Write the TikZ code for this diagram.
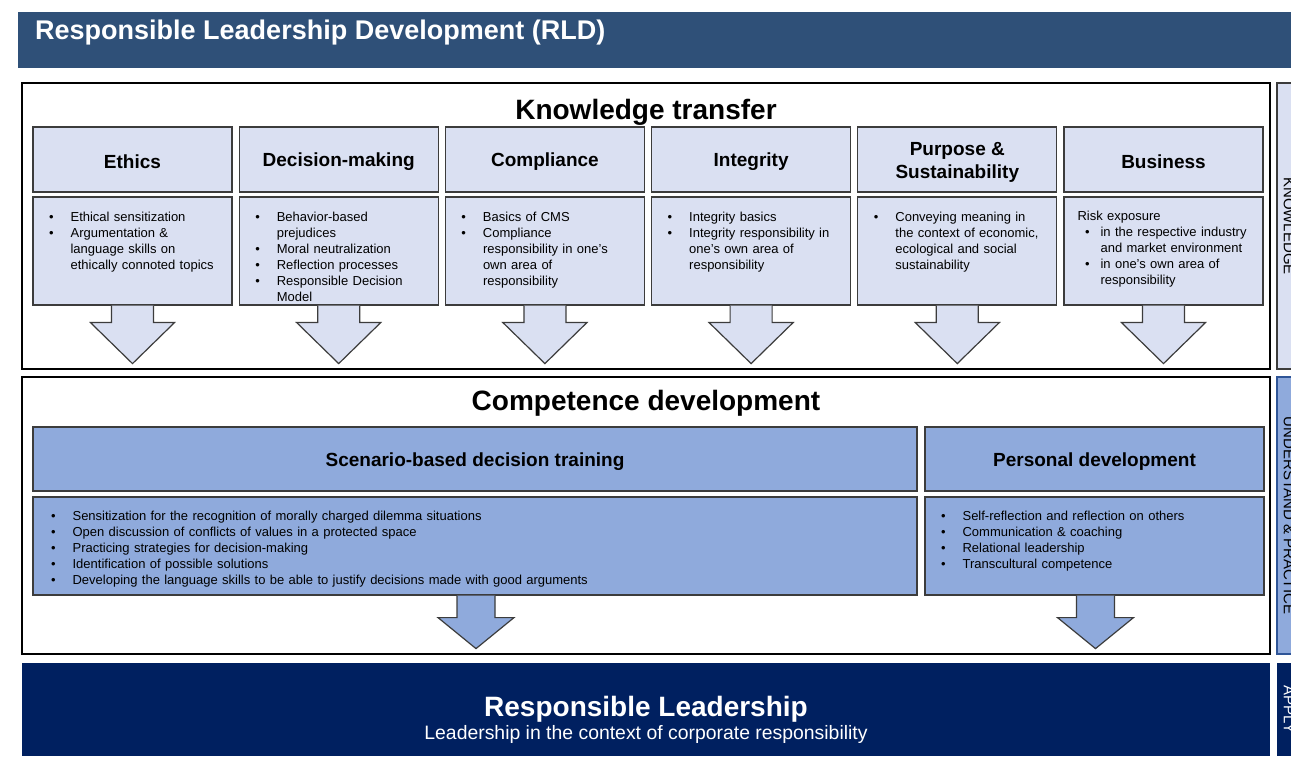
\documentclass[tikz,border=0pt]{standalone}
\usepackage{fontspec}
\setmainfont{Liberation Sans}
\usetikzlibrary{calc}
\definecolor{banner}{RGB}{47,80,120}
\definecolor{lav}{RGB}{218,224,242}
\definecolor{midblue}{RGB}{143,170,220}
\definecolor{navy}{RGB}{0,32,96}
\definecolor{edge}{RGB}{60,60,60}
\definecolor{bluedge}{RGB}{47,85,151}
\newcommand{\bitem}[2][17pt]{\par{\leftskip=23pt\noindent\llap{\textbullet\hspace{#1}}#2\par}}

\begin{document}
\begin{tikzpicture}[x=1pt,y=1pt,
    sec/.style={draw=black,line width=2pt,fill=white,minimum width=1248pt,inner sep=0pt},
    hd/.style={draw=edge,line width=1.2pt,fill=lav,minimum width=199pt,minimum height=65pt,inner sep=0pt},
    hdt/.style={inner sep=0pt,align=center,yshift=-2.5pt,font=\fontsize{19}{23}\selectfont\bfseries},
    ct/.style={draw=edge,line width=1.2pt,fill=lav,minimum width=199pt,minimum height=108pt,inner sep=0pt},
    bhd/.style={draw=edge,line width=1.2pt,fill=midblue,minimum height=64pt,inner sep=0pt},
    bct/.style={draw=edge,line width=1.2pt,fill=midblue,minimum height=98pt,inner sep=0pt},
    txt/.style={anchor=north west,inner sep=0pt,text width=#1,align=left,font=\fontsize{13}{16}\selectfont},
    karr/.style={draw=edge,line width=1.2pt,fill=lav},
    barr/.style={draw=edge,line width=1.2pt,fill=midblue},
    side/.style={rotate=-90,minimum height=24pt,inner sep=0pt,font=\fontsize{15}{17}\selectfont},
    big/.style={inner sep=0pt,font=\fontsize{28}{32}\selectfont\bfseries}]
    \fill[white] (0,0) rectangle (1291,756);
    \useasboundingbox (0,0) rectangle (1291,756);
    \node (top) [fill=banner,minimum width=1282pt,minimum height=56pt,inner sep=0pt] at (659,716) {};
    \node (ttl) [anchor=base west,inner sep=0pt,text=white,font=\fontsize{27}{31}\selectfont\bfseries] at (35,716) {Responsible Leadership Development (RLD)};

    % knowledge transfer
    \node (ks) [sec,minimum height=286pt] at (646,530) {};
    \node (kt) [big,anchor=base] at (646,636) {Knowledge transfer};
    \foreach \i/\t in {1/Ethics,2/Decision-making,3/Compliance,4/Integrity,5/{Purpose \&\\Sustainability},6/Business}{
        \node (k\i) [hd] at ({132.5+206.2*(\i-1)},596.5) {};
        \node (l\i) [hdt] at (k\i) {\t};
    }
    \foreach \i in {1,...,6}{
        \node (c\i) [ct] at ({132.5+206.2*(\i-1)},505) {};
        \draw[karr] ($(c\i.south)+(-21,0)$) -- ++(0,-17) -- ++(-21,0) -- ++(42,-41) -- ++(42,41) -- ++(-21,0) -- ++(0,17);
    }
    \node (t1) [txt=185pt] at ($(c1.north west)+(15,-9)$) {\bitem{Ethical sensitization}\bitem{Argumentation \&\newline language skills on\newline ethically connoted topics}};
    \node (t2) [txt=185pt] at ($(c2.north west)+(15,-9)$) {\bitem{Behavior-based\newline prejudices}\bitem{Moral neutralization}\bitem{Reflection processes}\bitem{Responsible Decision\newline Model}};
    \node (t3) [txt=185pt] at ($(c3.north west)+(15,-9)$) {\bitem{Basics of CMS}\bitem{Compliance\newline responsibility in one's\newline own area of\newline responsibility}};
    \node (t4) [txt=185pt] at ($(c4.north west)+(15,-9)$) {\bitem{Integrity basics}\bitem{Integrity responsibility in\newline one's own area of\newline responsibility}};
    \node (t5) [txt=185pt] at ($(c5.north west)+(15,-9)$) {\bitem{Conveying meaning in\newline the context of economic,\newline ecological and social\newline sustainability}};
    \node (t6) [txt=185pt] at ($(c6.north west)+(14,-14)$) {\noindent Risk exposure\bitem[11pt]{in the respective industry\newline and market environment}\bitem[11pt]{in one's own area of\newline responsibility}};

    % competence development
    \node (cs) [sec,minimum height=277pt] at (646,240.5) {};
    \node (cd) [big,anchor=base] at (646,345) {Competence development};
    \node (sh) [bhd,minimum width=884pt] at (475,297) {};
    \node (shl) [hdt] at (sh) {Scenario-based decision training};
    \node (ph) [bhd,minimum width=339pt] at (1094.5,297) {};
    \node (phl) [hdt] at (ph) {Personal development};
    \node (sc) [bct,minimum width=884pt] at (475,210) {};
    \node (pc) [bct,minimum width=339pt] at (1094.5,210) {};
    \draw[barr] ($(sc.south)+(-18,0)$) -- ++(0,-22) -- ++(-19,0) -- ++(38,-31) -- ++(38,31) -- ++(-19,0) -- ++(0,22);
    \draw[barr] ($(pc.south)+(-18,0)$) -- ++(0,-22) -- ++(-19,0) -- ++(38,-31) -- ++(38,31) -- ++(-19,0) -- ++(0,22);
    \node (st) [txt=860pt] at ($(sc.north west)+(17,-8)$) {\bitem{Sensitization for the recognition of morally charged dilemma situations}\bitem{Open discussion of conflicts of values in a protected space}\bitem{Practicing strategies for decision-making}\bitem{Identification of possible solutions}\bitem{Developing the language skills to be able to justify decisions made with good arguments}};
    \node (pt) [txt=320pt] at ($(pc.north west)+(15,-8)$) {\bitem{Self-reflection and reflection on others}\bitem{Communication \& coaching}\bitem{Relational leadership}\bitem{Transcultural competence}};

    % responsible leadership
    \node (rl) [fill=navy,minimum width=1248pt,minimum height=93pt,inner sep=0pt] at (646,46.5) {};
    \node (rlt) [big,anchor=base,text=white] at (646,40) {Responsible Leadership};
    \node (rls) [anchor=base,inner sep=0pt,text=white,font=\fontsize{19.4}{22}\selectfont] at (646,17) {Leadership in the context of corporate responsibility};

    % side labels
    \node (sk) [side,draw=edge,line width=1.2pt,fill=lav,minimum width=286pt] at (1289,530) {KNOWLEDGE};
    \node (su) [side,draw=bluedge,line width=1.2pt,fill=midblue,minimum width=277pt] at (1289,240.5) {UNDERSTAND \& PRACTICE};
    \node (sa) [side,fill=navy,text=white,minimum width=93pt] at (1289,46.5) {APPLY};
\end{tikzpicture}
\end{document}
